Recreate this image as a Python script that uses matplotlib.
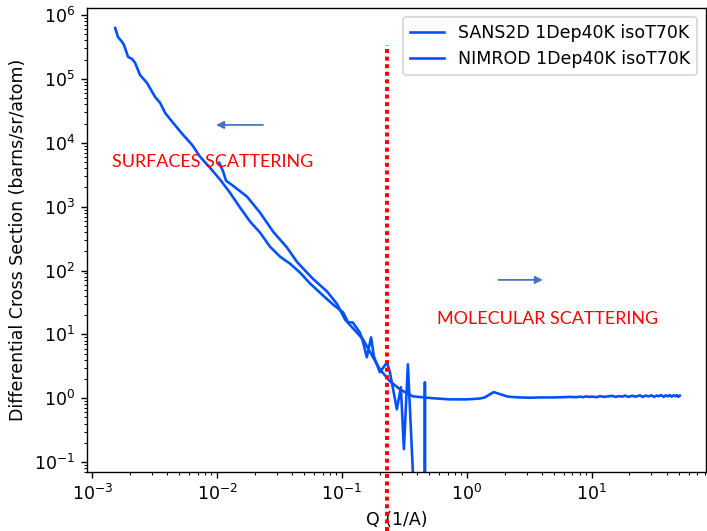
import matplotlib
matplotlib.use("Agg")
import matplotlib.pyplot as plt
import matplotlib.transforms as mtransforms

# SANS2D run, low Q (negative intensities at the noisy tail)
q_sans = [1.53e-3, 1.61e-3, 1.74e-3, 1.80e-3, 1.94e-3, 2.09e-3, 2.21e-3, 2.42e-3,
          2.75e-3, 3.19e-3, 3.50e-3, 3.84e-3, 4.45e-3, 5.35e-3, 6.31e-3, 7.31e-3,
          8.79e-3, 1.06e-2, 1.27e-2, 1.53e-2, 1.84e-2, 2.21e-2, 2.65e-2, 3.19e-2,
          3.84e-2, 4.61e-2, 5.55e-2, 7.05e-2, 8.47e-2, 0.102, 0.112, 0.122,
          0.139, 0.147, 0.158, 0.171, 0.180, 0.201, 0.229, 0.242, 0.275,
          0.296, 0.313, 0.337, 0.370, 0.375, 0.41, 0.455, 0.461, 0.467]
i_sans = [6.27e5, 4.53e5, 3.79e5, 3.40e5, 2.21e5, 2.05e5, 1.78e5, 1.15e5,
          8.66e4, 5.23e4, 4.22e4, 2.94e4, 2.05e4, 1.33e4, 9.30e3, 6.04e3,
          4.06e3, 2.64e3, 1.65e3, 964, 583, 392, 237, 165,
          128, 93, 62.7, 40.7, 29.4, 22.1, 15.4, 15.4,
          10.7, 7.78, 4.38, 8.98, 4.53, 2.55, 3.65, 2.55, 0.673,
          1.49, 0.16, 3.4, 0.065, -0.5, -0.5, -0.5, 1.78, -0.5]

# NIMROD run, 0.01 - 50 1/A
q_nim = [1.04e-2, 1.12e-2, 1.18e-2, 1.34e-2, 1.74e-2, 2.21e-2, 2.81e-2, 3.63e-2,
         4.37e-2, 5.06e-2, 5.86e-2, 7.59e-2, 9.12e-2, 0.106, 0.147, 0.201,
         0.242, 0.291, 0.370, 0.535, 0.73, 1.0, 1.27, 1.39, 1.64, 1.84, 2.13,
         2.6, 3.19, 4.0, 5.0, 6.0, 6.67, 7.5, 8.0, 8.5, 9.0, 9.5, 10.0, 11.0,
         11.6, 12.5, 13.5, 14.5, 15.5, 16.5, 17.5, 18.5, 19.5, 21.0, 22.5, 24.2,
         25.5, 27.0, 28.5, 30.0, 31.5, 33.0, 34.5, 36.0, 37.5, 39.0, 40.5, 42.0,
         43.5, 45.0, 46.5, 48.0, 49.0, 50.6]
i_nim = [4.87e3, 3.52e3, 2.55e3, 2.13e3, 1.43e3, 805, 406, 229,
         136, 100, 74, 47, 30, 17, 8.4, 2.84,
         1.85, 1.38, 1.07, 1.0, 0.96, 0.96, 0.99, 1.03, 1.25, 1.16, 1.06,
         1.03, 1.02, 1.03, 1.03, 1.04, 1.05, 1.04, 1.06, 1.04, 1.07, 1.05, 1.06, 1.04,
         1.08, 1.05, 1.07, 1.09, 1.05, 1.08, 1.06, 1.10, 1.05, 1.09, 1.06, 1.11,
         1.05, 1.10, 1.07, 1.11, 1.05, 1.10, 1.08, 1.12, 1.05, 1.11, 1.07, 1.12,
         1.06, 1.11, 1.08, 1.12, 1.05, 1.10]

labels = ["SANS2D 1Dep40K isoT70K", "NIMROD 1Dep40K isoT70K"]
q_split = 0.229
line_color = "#0050ff"
note_color = "#ff0000"
arrow_color = "#4472c4"

fig = plt.figure(figsize=(707 / 125, 531 / 125), dpi=125)
ax = fig.add_axes([87 / 707, 59 / 531, 619 / 707, 464 / 531])

ax.plot(q_sans, i_sans, color=line_color, label=labels[0])
ax.plot(q_nim, i_nim, color=line_color, label=labels[1])
ax.set_xscale("log")
ax.set_yscale("log")
ax.set_xlim(9.1e-4, 82)
ax.set_ylim(0.07, 1.29e6)
ax.set_xlabel("Q (1/A)")
ax.set_ylabel("Differential Cross Section (barns/sr/atom)")
ax.legend(loc="upper right")

# red dotted divider, runs past the axes down to the label
blend = mtransforms.blended_transform_factory(ax.transData, fig.transFigure)
ax.plot([q_split, q_split], [0.0, 0.915], transform=blend, clip_on=False,
        color=note_color, lw=2.3, linestyle=(0, (1, 0.9)), solid_capstyle="butt",
        dash_capstyle="butt", zorder=5)

# region notes
ax.text(0.040, 0.668, "SURFACES SCATTERING", transform=ax.transAxes, color=note_color,
        fontsize=10.3, family="Lato", va="center", ha="left")
ax.text(0.565, 0.330, "MOLECULAR SCATTERING", transform=ax.transAxes, color=note_color,
        fontsize=10.3, family="Lato", va="center", ha="left")
ax.annotate("", xy=(0.203, 0.748), xytext=(0.290, 0.748), xycoords="axes fraction",
            arrowprops=dict(arrowstyle="-|>", color=arrow_color, lw=1.0, mutation_scale=9))
ax.annotate("", xy=(0.742, 0.414), xytext=(0.659, 0.414), xycoords="axes fraction",
            arrowprops=dict(arrowstyle="-|>", color=arrow_color, lw=1.0, mutation_scale=9))

fig.savefig("out.png", dpi=125)
